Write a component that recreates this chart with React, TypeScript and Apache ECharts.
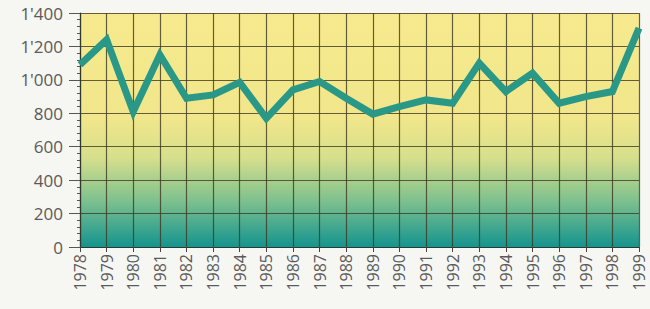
import React, { useEffect, useRef } from "react";
import * as echarts from "echarts";

const years = ["1978","1979","1980","1981","1982","1983","1984","1985","1986","1987","1988","1989","1990","1991","1992","1993","1994","1995","1996","1997","1998","1999"];
const values = [1090, 1240, 810, 1150, 890, 910, 985, 770, 940, 990, 890, 795, 840, 880, 860, 1100, 930, 1040, 860, 900, 930, 1310];

export default function App() {
  const ref = useRef<HTMLDivElement>(null);
  useEffect(() => {
    const chart = echarts.init(ref.current!, null, { renderer: "svg" });
    chart.setOption({
      animation: false,
      backgroundColor: "#f6f6f3",
      grid: {
        left: 80,
        top: 13,
        right: 11,
        bottom: 62,
        show: true,
        borderWidth: 0,
        backgroundColor: new echarts.graphic.LinearGradient(0, 0, 0, 1, [
          { offset: 0, color: "#f7ea8e" },
          { offset: 0.45, color: "#f1e68b" },
          { offset: 0.62, color: "#d6df8c" },
          { offset: 0.8, color: "#7fc18e" },
          { offset: 1, color: "#14948f" },
        ]),
      },
      xAxis: {
        type: "category",
        data: years,
        boundaryGap: false,
        axisLine: { show: true, lineStyle: { color: "#2f3a2c", width: 1.2 } },
        axisTick: { show: true, length: 5, lineStyle: { color: "#444" } },
        axisLabel: {
          rotate: 90,
          color: "#5a5a5a",
          fontSize: 16,
          fontFamily: "Open Sans",
          margin: 7,
        },
        splitLine: { show: true, lineStyle: { color: "#3e3a22", width: 1.2, opacity: 0.8 } },
      },
      yAxis: {
        type: "value",
        min: 0,
        max: 1400,
        interval: 200,
        axisLine: { show: true, lineStyle: { color: "#2f3a2c", width: 1.2 } },
        axisTick: { show: true, length: 11, lineStyle: { color: "#555" } },
        minorTick: { show: true, splitNumber: 5, length: 3, lineStyle: { color: "#555" } },
        axisLabel: {
          color: "#5a5a5a",
          fontSize: 17,
          fontFamily: "Open Sans",
          margin: 17,
          formatter: (v: number) => {
            const s = String(v);
            return v >= 1000 ? s.slice(0, s.length - 3) + "'" + s.slice(-3) : s;
          },
        },
        splitLine: { show: true, lineStyle: { color: "#3e3a22", width: 1.2, opacity: 0.8 } },
      },
      series: [
        {
          type: "line",
          data: values,
          symbol: "none",
          lineStyle: { color: "#2a9886", width: 7, join: "miter" },
        },
      ],
    });
    return () => chart.dispose();
  }, []);
  return <div ref={ref} style={{ position: "fixed", left: 0, top: 0, width: 650, height: 309 }} />;
}
